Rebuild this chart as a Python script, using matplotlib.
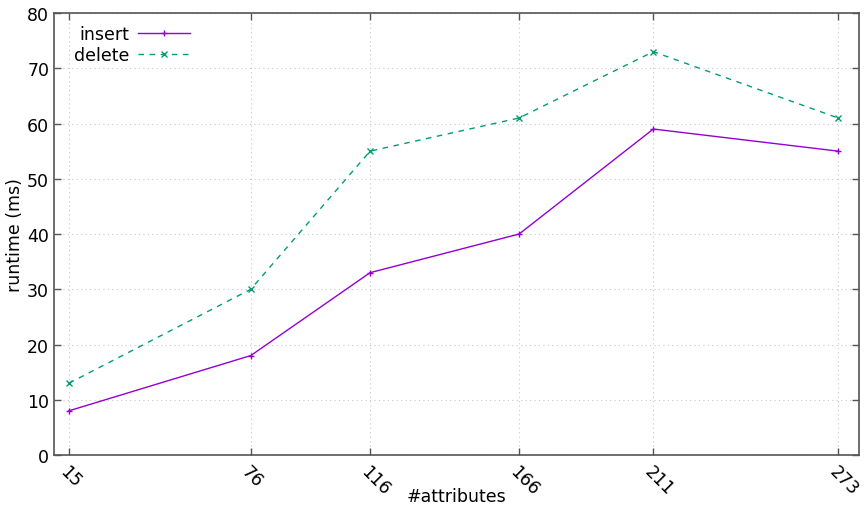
import matplotlib
matplotlib.use("Agg")
from matplotlib import pyplot as plt

attributes = [15, 76, 116, 166, 211, 273]
insert_ms = [8, 18, 33, 40, 59, 55]
delete_ms = [13, 30, 55, 61, 73, 61]
y_ticks = [0, 10, 20, 30, 40, 50, 60, 70, 80]

plt.rcParams['font.family'] = ['DejaVu Sans']
plt.rcParams['font.size'] = 12.5

fig = plt.figure(figsize=(8.67, 5.06), dpi=100)
ax = fig.add_axes([0.0623, 0.0988, 0.9285, 0.8735])

ax.plot(attributes, insert_ms, color='#9400d3', lw=1, marker='+', ms=5, mew=1, label='insert')
ax.plot(attributes, delete_ms, color='#009e73', lw=1, ls=(0, (4, 4)), marker='x', ms=4.5, mew=1, label='delete')

ax.set_xlim(10, 280)
ax.set_ylim(0, 80)
ax.set_xticks(attributes)
ax.set_xticklabels([str(a) for a in attributes], rotation=-45, ha='left', va='top',
                   rotation_mode='anchor')
ax.set_yticks(y_ticks)
ax.tick_params(direction='in', top=True, right=True, length=5, width=1, color='#555555')
ax.tick_params(axis='x', pad=5)
ax.grid(True, ls=(0, (1, 3)), color='#c8c8c8', lw=0.8)
for s in ax.spines.values():
    s.set_color('#555555')
    s.set_linewidth(1.2)

ax.set_xlabel('#attributes', labelpad=-8)
ax.set_ylabel('runtime (ms)', labelpad=2)

leg = ax.legend(loc='upper left', markerfirst=False, frameon=False, handlelength=3,
                borderaxespad=0.3, handletextpad=0.5, labelspacing=0.15,
                bbox_to_anchor=(0.01, 1.0))
for t in leg.get_texts():
    t.set_ha('right')

fig.savefig('out.png', dpi=100)
